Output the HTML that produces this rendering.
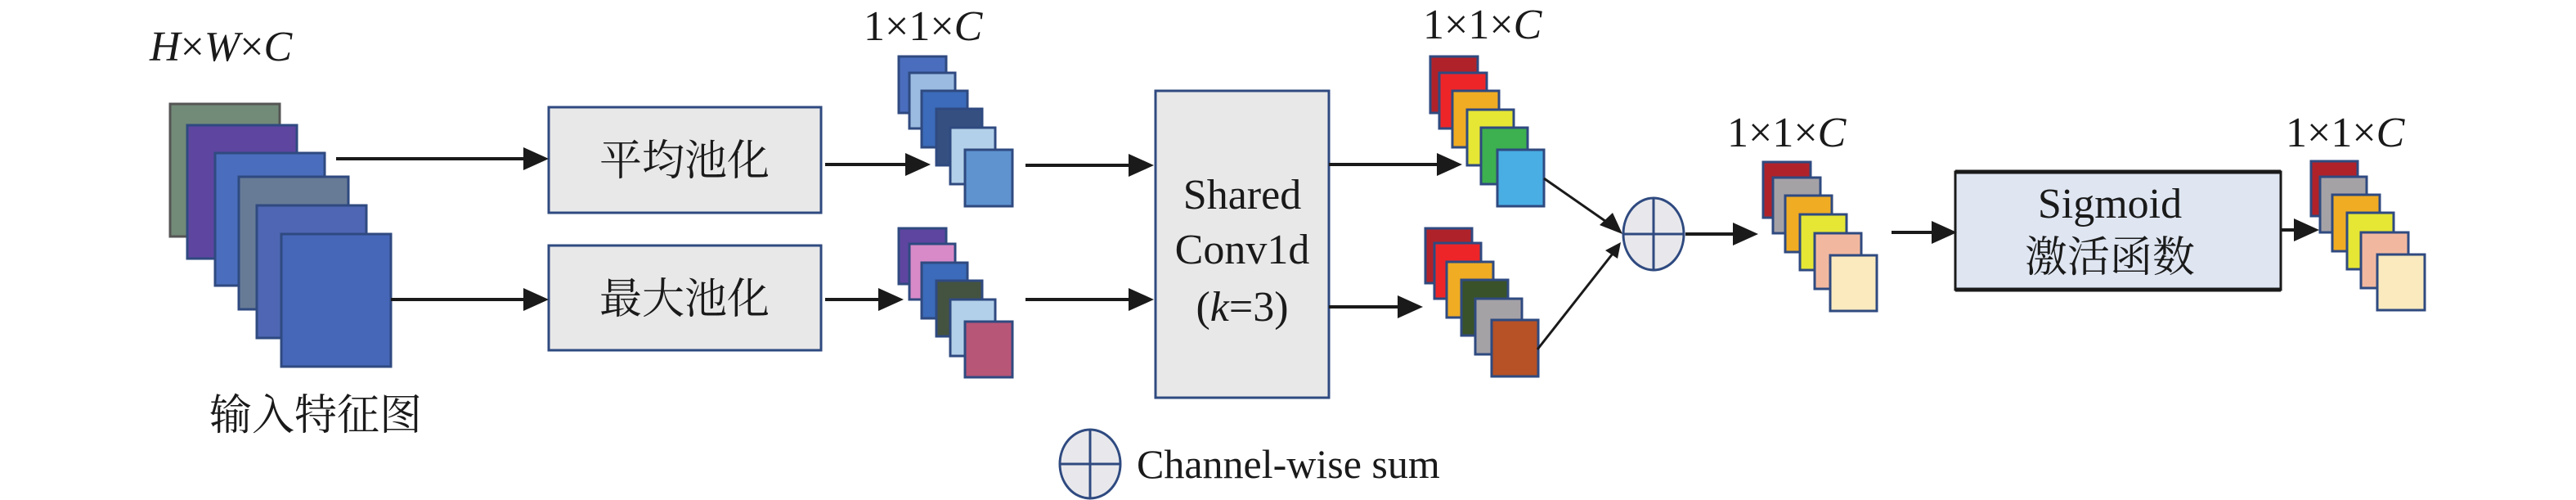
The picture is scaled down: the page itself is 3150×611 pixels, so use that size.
<!DOCTYPE html>
<html><head><meta charset="utf-8"><style>
html,body{margin:0;padding:0;background:#fff;}
svg{display:block;}
text{font-family:"Liberation Serif","Noto Serif CJK SC",serif;fill:#1a1a1a;}
</style></head><body>
<svg width="3150" height="611" viewBox="0 0 3150 611" xmlns="http://www.w3.org/2000/svg">
<defs>
<marker id="ah" markerWidth="10" markerHeight="10" refX="9" refY="5" orient="auto" markerUnits="userSpaceOnUse" viewBox="0 0 10 10">
</marker>
</defs>
<g stroke="#2f4a80" stroke-width="3">
<rect x="208" y="127" width="134" height="162" fill="#728a78" stroke="#555"/>
<rect x="229" y="153" width="134" height="163" fill="#5e45a0"/>
<rect x="263" y="187" width="134" height="162" fill="#4a6dbd"/>
<rect x="292" y="216" width="134" height="162" fill="#677b96"/>
<rect x="314" y="251" width="134" height="162" fill="#4e66b3"/>
<rect x="344" y="286" width="134" height="162" fill="#4666b8"/>

<rect x="671" y="131" width="333" height="129" fill="#e8e8e8"/>
<rect x="671" y="300" width="333" height="128" fill="#e8e8e8"/>
<rect x="1413" y="111" width="212" height="375" fill="#e8e8e8"/>

<rect x="1099" y="69" width="58" height="69" fill="#4a6dbd"/>
<rect x="1112" y="89" width="56" height="68" fill="#9bbbe0"/>
<rect x="1127" y="111" width="56" height="69" fill="#3b6bba"/>
<rect x="1145" y="133" width="56" height="69" fill="#344f80"/>
<rect x="1162" y="156" width="55" height="69" fill="#b3d0ea"/>
<rect x="1180" y="183" width="58" height="69" fill="#5e93cf"/>

<rect x="1099" y="279" width="58" height="68" fill="#5e45a0"/>
<rect x="1112" y="298" width="56" height="68" fill="#d88ac8"/>
<rect x="1127" y="321" width="56" height="68" fill="#3b6bba"/>
<rect x="1145" y="343" width="56" height="68" fill="#44533f"/>
<rect x="1162" y="366" width="55" height="69" fill="#b3d0ea"/>
<rect x="1180" y="393" width="58" height="68" fill="#b85677"/>

<rect x="1749" y="69" width="58" height="69" fill="#b0222a"/>
<rect x="1760" y="89" width="58" height="68" fill="#ee2528"/>
<rect x="1776" y="111" width="57" height="69" fill="#f0ac23"/>
<rect x="1794" y="134" width="57" height="68" fill="#e6e635"/>
<rect x="1811" y="156" width="57" height="69" fill="#3db04f"/>
<rect x="1831" y="183" width="57" height="69" fill="#48aee4"/>

<rect x="1743" y="279" width="57" height="67" fill="#b0222a"/>
<rect x="1754" y="297" width="57" height="68" fill="#ee2528"/>
<rect x="1769" y="320" width="57" height="68" fill="#f0ac23"/>
<rect x="1787" y="342" width="57" height="68" fill="#3a5229"/>
<rect x="1804" y="365" width="57" height="68" fill="#a5a2a6"/>
<rect x="1824" y="391" width="57" height="69" fill="#b65226"/>

<rect x="2156" y="198" width="58" height="68" fill="#b0222a"/>
<rect x="2168" y="217" width="58" height="68" fill="#a5a2a6"/>
<rect x="2183" y="239" width="57" height="69" fill="#f0ac23"/>
<rect x="2201" y="262" width="57" height="68" fill="#e6e635"/>
<rect x="2219" y="285" width="57" height="68" fill="#f2b89f"/>
<rect x="2238" y="312" width="57" height="68" fill="#faeabd"/>

<rect x="2826" y="197" width="57" height="67" fill="#b0222a"/>
<rect x="2837" y="216" width="57" height="68" fill="#a5a2a6"/>
<rect x="2852" y="238" width="58" height="69" fill="#f0ac23"/>
<rect x="2870" y="260" width="57" height="69" fill="#e6e635"/>
<rect x="2887" y="284" width="58" height="68" fill="#f2b89f"/>
<rect x="2907" y="311" width="58" height="68" fill="#faeabd"/>
</g>
<rect x="2391" y="210" width="398" height="144" fill="#dfe6f2" stroke="#1a1a1a" stroke-width="3"/>
<line x1="2391" y1="210" x2="2789" y2="210" stroke="#1a1a1a" stroke-width="5"/>
<line x1="2391" y1="354" x2="2789" y2="354" stroke="#1a1a1a" stroke-width="5"/>

<g stroke="#1a1a1a" stroke-width="4" fill="none">
<line x1="411" y1="194" x2="645" y2="194"/>
<line x1="478" y1="366" x2="645" y2="366"/>
<line x1="1009" y1="201" x2="1112" y2="201"/>
<line x1="1009" y1="366" x2="1080" y2="366"/>
<line x1="1254" y1="202" x2="1385" y2="202"/>
<line x1="1254" y1="366" x2="1385" y2="366"/>
<line x1="1625" y1="201" x2="1762" y2="201"/>
<line x1="1625" y1="375" x2="1715" y2="375"/>
<line x1="2061" y1="286" x2="2124" y2="286"/>
<line x1="2313" y1="284" x2="2366" y2="284"/>
<line x1="2789" y1="281" x2="2808" y2="281"/>
<line x1="1888" y1="218" x2="1970" y2="275" stroke-width="3"/>
<line x1="1880" y1="427" x2="1972" y2="310" stroke-width="3"/>
</g>
<g fill="#1a1a1a">
<polygon points="671,194 640,180 640,208"/>
<polygon points="671,366 640,352 640,380"/>
<polygon points="1138,201 1107,187 1107,215"/>
<polygon points="1105,366 1074,352 1074,380"/>
<polygon points="1411,202 1380,188 1380,216"/>
<polygon points="1411,366 1380,352 1380,380"/>
<polygon points="1788,201 1757,187 1757,215"/>
<polygon points="1740,375 1709,361 1709,389"/>
<polygon points="2150,286 2119,272 2119,300"/>
<polygon points="2393,284 2362,270 2362,298"/>
<polygon points="2836,281 2805,267 2805,295"/>
<polygon points="1984,286 1956,275 1972,260"/>
<polygon points="1982,296 1963,306 1978,316"/>
</g>

<g stroke="#2f4a80" stroke-width="3" fill="#e8e8ec">
<ellipse cx="2022" cy="286" rx="37" ry="44"/>
<line x1="1985" y1="286" x2="2059" y2="286"/>
<line x1="2022" y1="242" x2="2022" y2="330"/>
<ellipse cx="1333" cy="567" rx="37" ry="42"/>
<line x1="1296" y1="567" x2="1370" y2="567"/>
<line x1="1333" y1="525" x2="1333" y2="609"/>
</g>

<g font-size="52">
<text x="183" y="74" font-style="italic">H<tspan font-style="normal">×</tspan>W<tspan font-style="normal">×</tspan>C</text>
<text x="1056" y="49">1×1×<tspan font-style="italic">C</tspan></text>
<text x="1740" y="47">1×1×<tspan font-style="italic">C</tspan></text>
<text x="2112" y="179">1×1×<tspan font-style="italic">C</tspan></text>
<text x="2795" y="179">1×1×<tspan font-style="italic">C</tspan></text>
<text x="837" y="214" text-anchor="middle">平均池化</text>
<text x="837" y="383" text-anchor="middle">最大池化</text>
<text x="386" y="525" text-anchor="middle">输入特征图</text>
<text x="1519" y="255" text-anchor="middle">Shared</text>
<text x="1519" y="322" text-anchor="middle">Conv1d</text>
<text x="1519" y="392" text-anchor="middle">(<tspan font-style="italic">k</tspan>=3)</text>
<text x="2580" y="266" text-anchor="middle">Sigmoid</text>
<text x="2580" y="332" text-anchor="middle">激活函数</text>
<text x="1390" y="584" font-size="50">Channel-wise sum</text>
</g>
</svg>
</body></html>
